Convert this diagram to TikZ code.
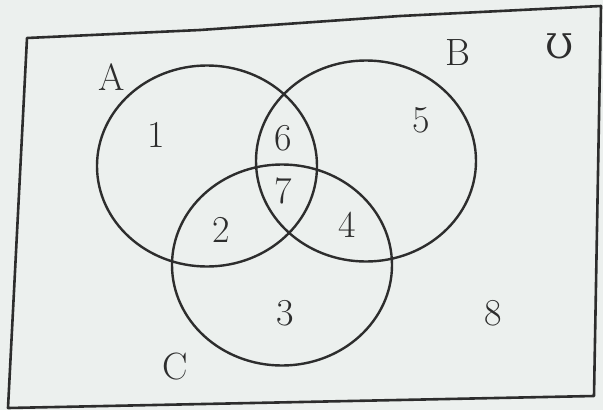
\documentclass[tikz,border=0pt]{standalone}
\usepackage{fontspec}
\newfontfamily\symfont{DejaVu Serif}
\usetikzlibrary{shapes.geometric}
\definecolor{paper}{RGB}{236,240,238}
\definecolor{ink}{RGB}{45,45,45}
\tikzset{
  setring/.style={draw=ink, line width=2.4pt, ellipse, minimum width=220pt, minimum height=201pt, inner sep=0pt, outer sep=0pt},
  lbl/.style={text=ink, font=\fontsize{38}{40}\selectfont, inner sep=0pt},
  frame/.style={draw=ink, line width=2.6pt, line join=round}
}
\begin{document}
\begin{tikzpicture}[x=1pt, y=-1pt]
\useasboundingbox (0,0) rectangle (603,410);
\fill[paper] (0,0) rectangle (603,410);
% universal set frame (slightly skewed, as photographed)
\coordinate (tl) at (27,38);
\coordinate (tm1) at (200,30);
\coordinate (tm2) at (400,16);
\coordinate (tr) at (601,6);
\coordinate (br) at (594,396);
\coordinate (bl) at (8,408);
\draw[frame] (tl) -- (tm1) -- (tm2) -- (tr) -- (br) -- (bl) -- cycle;
% sets
\node[setring] (A) at (207,166) {};
\node[setring] (B) at (366,161) {};
\node[setring] (C) at (282,265) {};
% set names
\node[lbl] (lA) at (112,77) {A};
\node[lbl] (lB) at (458,53) {B};
\node[lbl, font=\symfont\fontsize{34}{36}\selectfont] (lU) at (560,46) {Ʊ};
\node[lbl] (lC) at (175,367) {C};
% region numbers
\node[lbl] (r1) at (156,135) {1};
\node[lbl] (r6) at (283,138) {6};
\node[lbl] (r5) at (421,120) {5};
\node[lbl] (r7) at (283,191) {7};
\node[lbl] (r2) at (221,230) {2};
\node[lbl] (r4) at (347,225) {4};
\node[lbl] (r3) at (285,313) {3};
\node[lbl] (r8) at (493,313) {8};
\end{tikzpicture}
\end{document}
